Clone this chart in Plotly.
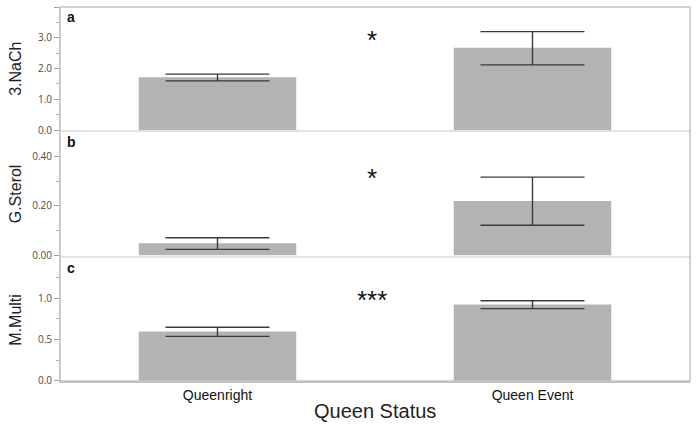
import plotly.graph_objects as go
from plotly.subplots import make_subplots

# ---- data ---- #
status = ['Queenright', 'Queen Event']

nach_mean = [1.72, 2.68]
nach_low = [1.60, 2.12]
nach_high = [1.82, 3.20]

sterol_mean = [0.050, 0.220]
sterol_low = [0.025, 0.122]
sterol_high = [0.072, 0.316]

multi_mean = [0.60, 0.925]
multi_low = [0.54, 0.875]
multi_high = [0.65, 0.970]

# letter, y title, significance, mean, low, high, y range, tick step, format, star height
panels = [
    ('a', '3.NaCh', '*', nach_mean, nach_low, nach_high, [0, 4.0], 1.0, '.1f', 0.73),
    ('b', 'G.Sterol', '*', sterol_mean, sterol_low, sterol_high, [0, 0.496], 0.2, '.2f', 0.63),
    ('c', 'M.Multi', '***', multi_mean, multi_low, multi_high, [0, 1.49], 0.5, '.1f', 0.66),
]

BAR = '#b3b3b3'
ERR = '#3a3a3a'
FONT = 'Liberation Sans, Arial'

# ---- figure ---- #
fig = make_subplots(rows=3, cols=1, shared_xaxes=True, vertical_spacing=0.006)

for i, (letter, ylabel, stars, mean, low, high, yr, dt, fmt, sy) in enumerate(panels, start=1):
    plus = [h - m for h, m in zip(high, mean)]
    minus = [m - l for m, l in zip(mean, low)]
    fig.add_trace(go.Bar(x=status, y=mean, width=0.5,
                         marker=dict(color=BAR, line=dict(width=0)),
                         error_y=dict(type='data', symmetric=False, array=plus, arrayminus=minus,
                                      color=ERR, thickness=1.4, width=52),
                         showlegend=False),
                  row=i, col=1)

    fig.update_yaxes(range=yr, dtick=dt, tickformat=fmt, showgrid=False, zeroline=False,
                     automargin=False,
                     showline=True, linecolor='#b8b8b8', linewidth=1,
                     ticks='outside', ticklen=5, tickcolor='#a0a0a0',
                     minor=dict(ticks='outside', ticklen=3, tickcolor='#b0b0b0', dtick=dt / 2),
                     tickfont=dict(family='Open Sans, sans-serif', size=10, color='#4a4a4a'),
                     row=i, col=1)

    dom = 'y domain' if i == 1 else 'y%d domain' % i
    fig.add_annotation(text=ylabel, xref='paper', yref=dom, x=-0.071, y=0.5,
                       xanchor='center', yanchor='middle', textangle=-90, showarrow=False,
                       font=dict(family=FONT, size=16, color='#222222'))
    fig.add_annotation(text='<b>%s</b>' % letter, xref='paper', yref=dom, x=0.008, y=1.0,
                       xanchor='left', yanchor='top', showarrow=False,
                       font=dict(family=FONT, size=14, color='#111111'))
    fig.add_annotation(text=stars, xref='paper', yref=dom, x=0.495, y=sy,
                       xanchor='center', yanchor='middle', showarrow=False,
                       font=dict(family=FONT, size=26, color='#111111'))

fig.update_xaxes(showgrid=False, showline=True, linecolor='#e2e2e2', linewidth=1.5,
                 ticks='', showticklabels=False, automargin=False)
fig.update_xaxes(showticklabels=True, tickfont=dict(family=FONT, size=14, color='#111111'),
                 linecolor='#c0c0c0', row=3, col=1)

fig.add_annotation(text='Queen Status', xref='paper', yref='paper', x=0.5, y=-0.08,
                   xanchor='center', yanchor='middle', showarrow=False,
                   font=dict(family=FONT, size=20, color='#222222'))

# outer frame
fig.add_shape(type='rect', xref='paper', yref='paper', x0=0, x1=1, y0=0, y1=1,
              line=dict(color='#c4c4c4', width=1.5), layer='above')

fig.update_layout(width=700, height=427, margin=dict(l=60, r=10, t=7, b=46),
                  plot_bgcolor='white', paper_bgcolor='white', bargap=0.5)

# drop the default page margin so the figure sits at the window corner
fig.write_html('out.html', config={'displayModeBar': False},
               post_script="document.body.style.margin='0';document.body.style.overflow='hidden';")
